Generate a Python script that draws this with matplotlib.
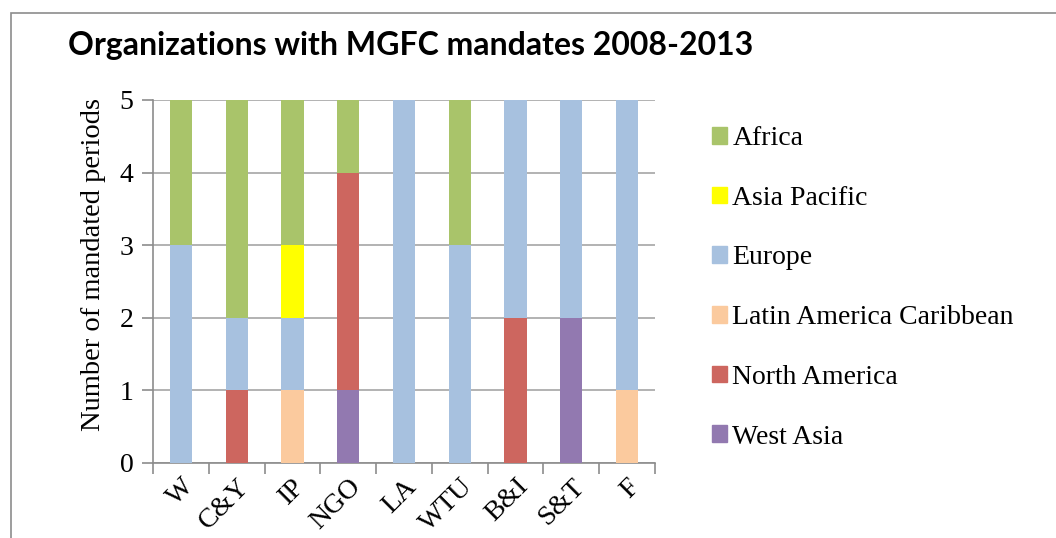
import numpy as np
import matplotlib
matplotlib.use("Agg")
import matplotlib.pyplot as plt
from matplotlib.patches import Rectangle, Patch
from matplotlib.transforms import ScaledTranslation

# categories and stacked series (bottom to top)
categories = ["W", "C&Y", "IP", "NGO", "LA", "WTU", "B&I", "S&T", "F"]
west_asia = [0, 0, 0, 1, 0, 0, 0, 2, 0]
north_america = [0, 1, 0, 3, 0, 0, 2, 0, 0]
latin_america = [0, 0, 1, 0, 0, 0, 0, 0, 1]
europe = [3, 1, 1, 0, 5, 3, 3, 3, 4]
asia_pacific = [0, 0, 1, 0, 0, 0, 0, 0, 0]
africa = [2, 3, 2, 1, 0, 2, 0, 0, 0]

series = [
    ("West Asia", west_asia, "#9279B0"),
    ("North America", north_america, "#CD665F"),
    ("Latin America Caribbean", latin_america, "#FBCA9E"),
    ("Europe", europe, "#A7C1DF"),
    ("Asia Pacific", asia_pacific, "#FFFF00"),
    ("Africa", africa, "#A9C46A"),
]

W, H = 1056, 538
fig = plt.figure(figsize=(W / 100, H / 100), dpi=100)
serif = ["Liberation Serif", "DejaVu Serif"]

# outer chart frame (cut off at right/bottom like the screenshot)
fig.patches.append(Rectangle((11 / W, -0.05), 1.1, (H - 13) / H + 0.05,
                             transform=fig.transFigure, fill=False,
                             edgecolor="#8C8C8C", linewidth=1.2))

ax = fig.add_axes([153 / W, (H - 463) / H, 502 / W, 363 / H])

x = np.arange(len(categories))
bottom = np.zeros(len(categories))
for name, vals, col in series:
    ax.bar(x, vals, bottom=bottom, width=0.4, color=col, label=name, zorder=3)
    bottom += np.array(vals)

ax.set_xlim(-0.5, len(categories) - 0.5)
ax.set_ylim(0, 5)
ax.set_yticks(range(6))
ax.set_yticklabels([str(v) for v in range(6)], fontfamily=serif, fontsize=20)
ax.set_xticks(np.arange(len(categories) + 1) - 0.5)
ax.set_xticklabels([])
ax.set_xticks(x, minor=True)
ax.set_xticklabels(categories, minor=True, rotation=45, ha="right",
                   rotation_mode="anchor", fontfamily=serif, fontsize=20)
shift = ScaledTranslation(-7 / 100, 0, fig.dpi_scale_trans)
for lbl in ax.get_xticklabels(minor=True):
    lbl.set_transform(lbl.get_transform() + shift)
ax.tick_params(axis="x", which="minor", length=0, pad=8)
ax.tick_params(axis="x", which="major", length=8, color="#8C8C8C", width=1.2)
ax.tick_params(axis="y", length=8, color="#8C8C8C", width=1.2, pad=6)
ax.grid(axis="y", color="#A6A6A6", linewidth=1.2, zorder=0)
for s in ["top", "right"]:
    ax.spines[s].set_visible(False)
for s in ["left", "bottom"]:
    ax.spines[s].set_color("#8C8C8C")
    ax.spines[s].set_linewidth(1.2)

ax.set_ylabel("Number of mandated periods", fontfamily=serif, fontsize=20.5)
ax.yaxis.set_label_coords(-0.094, 0.548)

fig.text(68 / W, 1 - 45 / H, "Organizations with MGFC mandates 2008-2013",
         fontfamily=["Lato", "DejaVu Sans"], fontweight="bold", fontsize=23,
         va="center", ha="left")

handles = [Patch(color=col, label=name) for name, vals, col in series[::-1]]
fig.legend(handles=handles, loc="upper left",
           bbox_to_anchor=(687 / W, 1 - 101 / H), frameon=False,
           prop={"family": serif, "size": 20}, handlelength=0.55,
           handleheight=0.55, handletextpad=0.18, labelspacing=1.25)

fig.savefig("out.png", dpi=100)
